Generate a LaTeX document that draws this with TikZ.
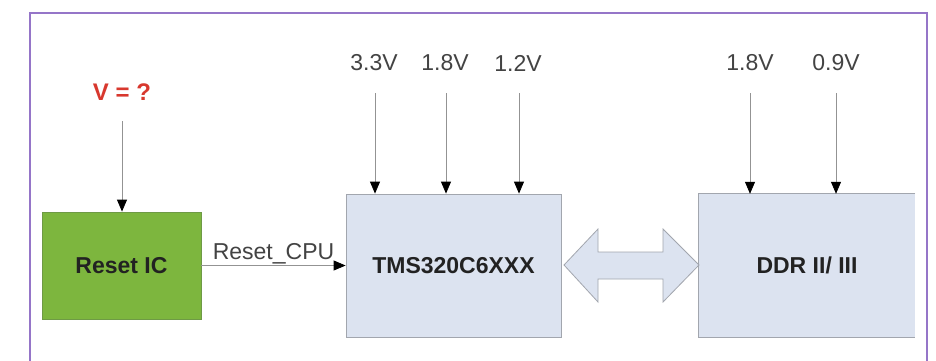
\documentclass[tikz,border=0pt]{standalone}
\usepackage{fontspec}
\setmainfont{Liberation Sans}
\usetikzlibrary{arrows.meta}
\definecolor{framepurple}{HTML}{9575C8}
\definecolor{boxblue}{HTML}{DCE3F0}
\definecolor{boxedge}{HTML}{A2A6AE}
\definecolor{resetgreen}{HTML}{7DB63E}
\definecolor{greenedge}{HTML}{6E9A45}
\definecolor{vred}{HTML}{D8382E}
\definecolor{txt}{HTML}{222222}
\tikzset{
  blk/.style={rectangle, inner sep=0pt, font=\fontsize{23}{26}\selectfont\bfseries, text=txt},
  lbl/.style={inner sep=0pt, font=\fontsize{23}{26}\selectfont, text=txt!85},
  feed/.style={draw=gray!85, line width=0.8pt, -{Triangle[length=12pt,width=10pt,color=black]}},
}
\begin{document}
\begin{tikzpicture}[x=1pt,y=-1pt]
\useasboundingbox (0,0) rectangle (936,360);
\fill[white] (0,0) rectangle (936,360);
% frame
\draw[framepurple, line width=1.6pt] (30,362) -- (30,13) -- (927,13) -- (927,362);
% blocks
\node[blk, fill=resetgreen, draw=greenedge, line width=0.8pt, minimum width=159pt, minimum height=107pt] (resetic) at (121.5,265.5) {Reset IC};
\node[blk, fill=boxblue, draw=boxedge, line width=0.8pt, minimum width=215pt, minimum height=143pt] (tms) at (453.5,265.5) {TMS320C6XXX};
\node[blk, fill=boxblue, minimum width=216pt, minimum height=143pt] (ddr) at (807,265.5) {DDR II/ III};
\draw[boxedge, line width=0.8pt] (ddr.north east) -- (ddr.north west) -- (ddr.south west) -- (ddr.south east);
% voltage labels
\node[inner sep=0pt, font=\fontsize{24}{26}\selectfont\bfseries, text=vred] (vq) at (122,92) {V = ?};
\node[lbl] (v33) at (374,63) {3.3V};
\node[lbl] (v18) at (445,63) {1.8V};
\node[lbl] (v12) at (518,63) {1.2V};
\node[lbl] (d18) at (750,63) {1.8V};
\node[lbl] (d09) at (836,63) {0.9V};
% arrow start points
\coordinate (svq) at (122,121);
\coordinate (s33) at (375,93);
\coordinate (s18) at (446,93);
\coordinate (s12) at (519,93);
\coordinate (sd18) at (750,93);
\coordinate (sd09) at (836,93);
\draw[feed] (svq) -- (svq |- resetic.north);
\draw[feed] (s33) -- (s33 |- tms.north);
\draw[feed] (s18) -- (s18 |- tms.north);
\draw[feed] (s12) -- (s12 |- tms.north);
\draw[feed] (sd18) -- (sd18 |- ddr.north);
\draw[feed] (sd09) -- (sd09 |- ddr.north);
% reset line
\draw[feed] (resetic.east) -- node[lbl, above=1pt] {Reset\_CPU} (tms.west);
% bus double arrow
\draw[fill=boxblue, draw=boxedge, line width=0.8pt, line join=miter]
  (564,265) -- (598,229) -- (598,252) -- (663,252) -- (663,229) -- (699,265)
  -- (663,302) -- (663,279) -- (598,279) -- (598,302) -- cycle;
\end{tikzpicture}
\end{document}
